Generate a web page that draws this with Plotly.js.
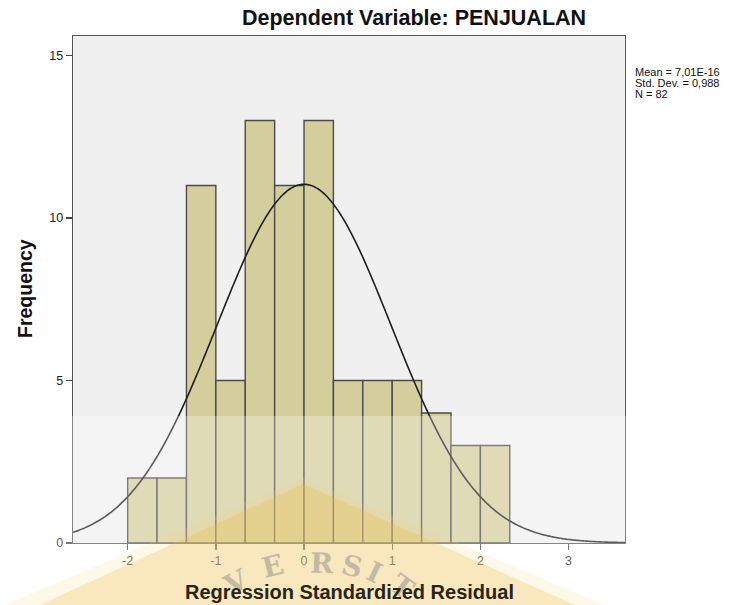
<!DOCTYPE html>
<html>
<head>
<meta charset="utf-8">
<script src="https://cdn.plot.ly/plotly-3.0.1.min.js"></script>
<style>html,body{margin:0;padding:0;background:#fff;}#chart{width:747px;height:605px;}</style>
</head>
<body>
<div id="chart"></div>
<script>
// Histogram bins (width 1/3) and counts
const binCenters = [-1.8333, -1.5, -1.1667, -0.8333, -0.5, -0.1667, 0.1667, 0.5, 0.8333, 1.1667, 1.5, 1.8333, 2.1667];
const counts = [2, 2, 11, 5, 13, 11, 13, 5, 5, 5, 4, 3, 3];
const binWidth = 1/3;
// Reported statistics
const statMean = 7.01e-16;
const statSD = 0.988;
const statN = 82;
const statLabels = ["Mean = 7,01E-16", "Std. Dev. = 0,988", "N = 82"];
const xTicks = [-2, -1, 0, 1, 2, 3];
const yTicks = [0, 5, 10, 15];
const xRange = [-2.62, 3.64];
const yRange = [0, 15.6];

// Normal curve defined by the reported mean, SD and N
const curveX = [], curveY = [];
for (let x = xRange[0]; x <= xRange[1] + 1e-9; x += 0.02) {
  const z = (x - statMean) / statSD;
  curveX.push(x);
  curveY.push(statN * binWidth / (statSD * Math.sqrt(2 * Math.PI)) * Math.exp(-0.5 * z * z));
}

const L = 73, R = 625, T = 36, B = 543;
const px = X => (X - L) / (R - L);
const py = Y => (B - Y) / (B - T);

const traces = [
  {type: 'bar', x: binCenters, y: counts, width: binWidth,
   marker: {color: '#d3ce9c', line: {color: '#4a4a4a', width: 1.4}},
   hoverinfo: 'skip', showlegend: false},
  {type: 'scatter', mode: 'lines', x: curveX, y: curveY,
   line: {color: '#1e1e1e', width: 1.6, shape: 'spline'}, hoverinfo: 'skip', showlegend: false, cliponaxis: true}
];

const font = 'Liberation Sans, Arial, sans-serif';
const annotations = [];
// faint watermark letters (drawn first, beneath the other texts)
const wm = [['V', 236, 582, -28], ['E', 272, 566, -14], ['R', 322, 563, 2], ['S', 352, 566, 14], ['I', 374, 572, 26], ['T', 402, 586, 36]];
wm.forEach(w => annotations.push({
  text: '<b>' + w[0] + '</b>', xref: 'paper', yref: 'paper', x: px(w[1]), y: py(w[2]), textangle: w[3],
  xanchor: 'center', yanchor: 'middle', showarrow: false,
  font: {family: 'DejaVu Serif, serif', size: 28, color: 'rgba(140,140,140,0.5)'}
}));
annotations.push(
  {text: '<b>Dependent Variable: PENJUALAN</b>', xref: 'paper', yref: 'paper', x: px(414), y: py(18),
   xanchor: 'center', yanchor: 'middle', showarrow: false, font: {family: font, size: 21.5, color: '#111'}},
  {text: '<b>Regression Standardized Residual</b>', xref: 'paper', yref: 'paper', x: px(349), y: py(592),
   xanchor: 'center', yanchor: 'middle', showarrow: false, font: {family: font, size: 20, color: '#2a2418'}},
  {text: '<b>Frequency</b>', xref: 'paper', yref: 'paper', x: px(25), y: py(289), textangle: -90,
   xanchor: 'center', yanchor: 'middle', showarrow: false, font: {family: font, size: 19.5, color: '#111'}}
);
statLabels.forEach((s, i) => annotations.push({
  text: s, xref: 'paper', yref: 'paper', x: px(633), y: py(72 + i * 11),
  xanchor: 'left', yanchor: 'middle', showarrow: false, font: {family: font, size: 11, color: '#111'}
}));

const shapes = [
  // translucent watermark band
  {type: 'rect', xref: 'paper', yref: 'paper', x0: px(0), x1: px(693), y0: py(416), y1: py(605),
   fillcolor: 'rgba(255,255,255,0.28)', line: {width: 0}, layer: 'above'},
  // soft outer edge of the logo
  {type: 'path', xref: 'paper', yref: 'paper',
   path: `M ${px(5)} ${py(605)} L ${px(303)} ${py(478)} L ${px(605)} ${py(605)} Z`,
   fillcolor: 'rgba(250,210,120,0.16)', line: {width: 0}, layer: 'above'},
  // inner logo triangle
  {type: 'path', xref: 'paper', yref: 'paper',
   path: `M ${px(40)} ${py(605)} L ${px(303)} ${py(484)} L ${px(575)} ${py(605)} Z`,
   fillcolor: 'rgba(235,185,50,0.24)', line: {width: 0}, layer: 'above'}
];

const layout = {
  width: 747, height: 605,
  margin: {l: L, r: 747 - R, t: T, b: 605 - B},
  paper_bgcolor: '#ffffff', plot_bgcolor: '#f0f0f0',
  bargap: 0,
  xaxis: {range: xRange, tickvals: xTicks, ticktext: xTicks.map(String), ticks: 'outside', ticklen: 6,
    tickcolor: '#444', tickwidth: 1.3, showgrid: false, zeroline: false, showline: true, mirror: true,
    linecolor: '#555', linewidth: 1.4, tickfont: {family: font, size: 12.5, color: '#222'}, fixedrange: true},
  yaxis: {range: yRange, tickvals: yTicks, ticktext: yTicks.map(String), ticks: 'outside', ticklen: 6,
    tickcolor: '#444', tickwidth: 1.3, showgrid: false, zeroline: false, showline: true, mirror: true,
    linecolor: '#555', linewidth: 1.4, tickfont: {family: font, size: 12.5, color: '#222'}, fixedrange: true},
  annotations: annotations,
  shapes: shapes,
  showlegend: false
};

Plotly.newPlot('chart', traces, layout, {displayModeBar: false, staticPlot: true});
</script>
</body>
</html>
